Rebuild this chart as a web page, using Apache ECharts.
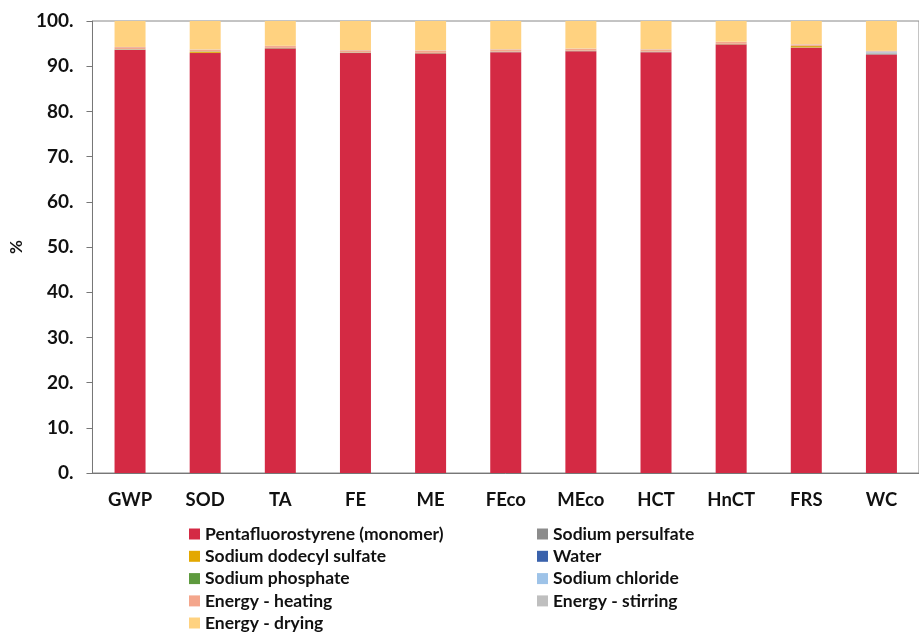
<!DOCTYPE html>
<html>
<head>
<meta charset="utf-8">
<script src="https://cdn.jsdelivr.net/npm/echarts@6/dist/echarts.min.js"></script>
<style>
  html, body { margin: 0; padding: 0; background: #fff; }
  #main { width: 919px; height: 632px; }
</style>
</head>
<body>
<div id="main"></div>
<script>
// 类别
var categories = ['GWP', 'SOD', 'TA', 'FE', 'ME', 'FEco', 'MEco', 'HCT', 'HnCT', 'FRS', 'WC'];
var yTicks = [0, 10, 20, 30, 40, 50, 60, 70, 80, 90, 100];

// 各成分贡献 (%)
var monomer    = [93.6, 92.9, 93.9, 92.9, 92.8, 93.1, 93.3, 93.1, 94.8, 94.1, 92.6];
var persulfate = [0.05, 0.05, 0.05, 0.05, 0.05, 0.05, 0.05, 0.05, 0.05, 0.05, 0.15];
var sds        = [0.05, 0.30, 0.05, 0.05, 0.05, 0.05, 0.05, 0.05, 0.05, 0.30, 0.05];
var water      = [0.02, 0.02, 0.02, 0.02, 0.02, 0.02, 0.02, 0.02, 0.02, 0.02, 0.02];
var phosphate  = [0.02, 0.02, 0.02, 0.02, 0.02, 0.02, 0.02, 0.02, 0.02, 0.02, 0.02];
var chloride   = [0.02, 0.02, 0.02, 0.02, 0.02, 0.02, 0.02, 0.02, 0.02, 0.02, 0.25];
var heating    = [0.45, 0.35, 0.40, 0.45, 0.50, 0.45, 0.40, 0.45, 0.40, 0.30, 0.15];
var stirring   = [0.05, 0.05, 0.05, 0.05, 0.05, 0.05, 0.05, 0.05, 0.05, 0.05, 0.15];
var drying     = [5.74, 6.29, 5.49, 6.44, 6.49, 6.24, 6.09, 6.24, 4.59, 5.14, 6.61];

var seriesNames = ['Pentafluorostyrene (monomer)', 'Sodium persulfate', 'Sodium dodecyl sulfate', 'Water',
  'Sodium phosphate', 'Sodium chloride', 'Energy - heating', 'Energy - stirring', 'Energy - drying'];
var seriesData = [monomer, persulfate, sds, water, phosphate, chloride, heating, stirring, drying];
var colors = ['#D42A44', '#8C8C8C', '#E3A800', '#3A62AC', '#5E9A3E', '#9EC3E8', '#F4A68C', '#BFBFBF', '#FFD280'];

var chart = echarts.init(document.getElementById('main'));

var series = [];
for (var i = 0; i < seriesNames.length; i++) {
  series.push({
    name: seriesNames[i],
    type: 'bar',
    stack: 'total',
    barWidth: 31,
    data: seriesData[i],
    itemStyle: { color: colors[i] }
  });
}

var legendText = { fontFamily: 'Lato', fontWeight: 'bold', fontSize: 17.5, color: '#111', lineHeight: 18 };

// 图例分三块摆放
function makeLegend(left, top, names) {
  return {
    orient: 'vertical',
    left: left,
    top: top,
    padding: 0,
    itemWidth: 11,
    itemHeight: 11,
    itemGap: 4.3,
    icon: 'rect',
    textStyle: legendText,
    data: names
  };
}

var option = {
  animation: false,
  color: colors,
  grid: {
    left: 92,
    right: -9,
    top: 21,
    bottom: 159,
    show: true,
    borderColor: '#888',
    borderWidth: 1
  },
  legend: [
    makeLegend(189, 525, ['Pentafluorostyrene (monomer)', 'Sodium dodecyl sulfate', 'Sodium phosphate', 'Energy - heating']),
    makeLegend(189, 614, ['Energy - drying']),
    makeLegend(537, 525, ['Sodium persulfate', 'Water', 'Sodium chloride', 'Energy - stirring'])
  ],
  xAxis: {
    type: 'category',
    data: categories,
    axisLine: { lineStyle: { color: '#777' } },
    axisTick: { length: 6, lineStyle: { color: '#777' } },
    axisLabel: {
      margin: 18,
      fontFamily: 'Lato',
      fontWeight: 'bold',
      fontSize: 18.5,
      color: '#111'
    }
  },
  yAxis: {
    type: 'value',
    min: yTicks[0],
    max: yTicks[yTicks.length - 1],
    interval: 10,
    name: '%',
    nameLocation: 'middle',
    nameGap: 66,
    nameRotate: 90,
    nameTextStyle: { fontFamily: 'Lato', fontWeight: 'bold', fontSize: 17, color: '#111' },
    splitLine: { show: false },
    axisLine: { show: true, lineStyle: { color: '#777' } },
    axisTick: { show: true, length: 6, lineStyle: { color: '#777' } },
    axisLabel: {
      margin: 19,
      fontFamily: 'Lato',
      fontWeight: 'bold',
      fontSize: 19,
      color: '#111',
      formatter: function (v) { return v + '.'; }
    }
  },
  series: series
};

chart.setOption(option);
</script>
</body>
</html>
